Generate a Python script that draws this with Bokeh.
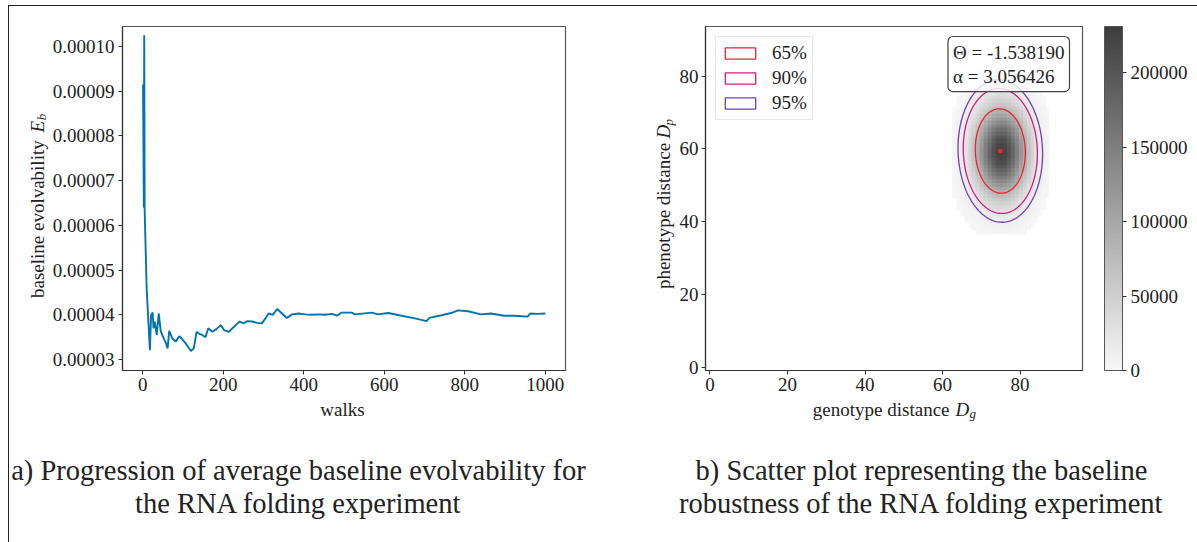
import numpy as np
from bokeh.plotting import figure
from bokeh.layouts import row, column
from bokeh.models import (Range1d, FixedTicker, PrintfTickFormatter, Label,
                          LinearColorMapper, ColorBar)
from bokeh.core.properties import value
from bokeh.embed import file_html
from bokeh.resources import INLINE

# ---------------- data ----------------
# running average of the baseline evolvability E_b (in units of 1e-5) over the walks
walks = [1, 2, 3, 4, 5, 10, 18, 21, 25, 27, 30, 35, 40, 45, 54, 58, 62, 66, 74, 82,
         91, 96, 107, 120, 127, 134, 140, 148, 156, 163, 173, 183, 194, 202, 214, 223,
         231, 241, 251, 260, 272, 284, 296, 305, 313, 323, 334, 346, 358, 371, 387, 404,
         420, 437, 453, 470, 483, 494, 519, 527, 569, 584, 610, 643, 676, 705, 712, 742,
         766, 783, 808, 840, 865, 898, 923, 956, 962, 980, 1000]
evolvability_e5 = [9.15, 7.85, 6.40, 10.25, 6.35, 4.59, 3.21, 3.99, 4.05, 3.70, 3.85, 3.55,
                   4.03, 3.63, 3.44, 3.37, 3.25, 3.64, 3.47, 3.40, 3.52, 3.48, 3.36, 3.19,
                   3.25, 3.62, 3.58, 3.55, 3.50, 3.70, 3.62, 3.68, 3.77, 3.66, 3.62, 3.70,
                   3.77, 3.85, 3.81, 3.86, 3.85, 3.82, 3.81, 3.92, 4.03, 4.00, 4.13, 4.03,
                   3.93, 4.01, 4.03, 4.01, 4.00, 4.01, 4.00, 4.02, 3.98, 4.05, 4.05, 4.01,
                   4.05, 4.01, 4.04, 3.98, 3.92, 3.86, 3.93, 3.99, 4.04, 4.10, 4.08, 4.01,
                   4.03, 3.98, 3.98, 3.96, 4.03, 4.02, 4.03]
evo_yticks_e5 = [3, 4, 5, 6, 7, 8, 9, 10]
walk_ticks = [0, 200, 400, 600, 800, 1000]

# 2D histogram of (genotype distance, phenotype distance): column / row profiles
dg_bins = list(range(63, 88))
dg_profile = [0.024, 0.044, 0.076, 0.123, 0.192, 0.282, 0.395, 0.524, 0.662, 0.792, 0.902,
              0.975, 1.0, 0.975, 0.902, 0.792, 0.662, 0.524, 0.395, 0.282, 0.192, 0.123,
              0.076, 0.044, 0.024]
dp_bins = list(range(37, 82))
dp_profile = [0.023, 0.032, 0.044, 0.059, 0.079, 0.105, 0.135, 0.172, 0.216, 0.267, 0.325,
              0.389, 0.458, 0.531, 0.607, 0.682, 0.755, 0.823, 0.882, 0.932, 0.969, 0.992,
              1.0, 0.992, 0.969, 0.932, 0.882, 0.823, 0.755, 0.682, 0.607, 0.531, 0.458,
              0.389, 0.325, 0.267, 0.216, 0.172, 0.135, 0.105, 0.079, 0.059, 0.044, 0.032,
              0.023]
peak_count = 228000
count_max = 231000
count_ticks = [0, 50000, 100000, 150000, 200000]
dist_ticks = [0, 20, 40, 60, 80]

# confidence ellipses of the fitted distribution
center_dg, center_dp = 74.9, 59.4
theta = -1.538190
alpha = 3.056426
sigma_major, sigma_minor = 8.0, 4.45
conf_levels = [0.65, 0.90, 0.95]
conf_labels = ["65%", "90%", "95%"]
conf_colors = ["#ec2233", "#cf1d80", "#6f42b0"]

caption_a = ["a) Progression of average baseline evolvability for",
             "the RNA folding experiment"]
caption_b = ["b) Scatter plot representing the baseline",
             "robustness of the RNA folding experiment"]

# ---------------- styling ----------------
SERIF = "Liberation Serif"
FS = "19px"
SUB = "13px"
INK = "#222222"
TOP_H = 393          # height of the plot row
CAP_H = 143          # height of the caption row


def style_axes(p, standoff=5):
    p.grid.visible = False
    p.outline_line_color = "#555555"
    p.outline_line_width = 1.2
    p.background_fill_color = "white"
    p.border_fill_color = "white"
    for ax in p.axis:
        ax.axis_line_color = "#333333"
        ax.axis_line_width = 1.2
        ax.major_tick_in = 0
        ax.major_tick_out = 4
        ax.major_tick_line_color = "#333333"
        ax.minor_tick_line_color = None
        ax.major_label_text_font = SERIF
        ax.major_label_text_font_size = FS
        ax.major_label_text_color = INK
        ax.major_label_standoff = standoff
    p.xaxis.major_label_standoff = 3


def blank(width, height):
    f = figure(width=width, height=height, output_backend="svg", toolbar_location=None,
               x_range=Range1d(0, width), y_range=Range1d(0, height),
               x_axis_location=None, y_axis_location=None, min_border=0)
    f.grid.visible = False
    f.outline_line_color = None
    return f


def put(f, text, x, y, size=FS, italic=False, angle=0.0, align="center"):
    f.text(x=[x], y=[y], text=[text], angle=angle, text_font=value(SERIF),
           text_font_size=size, text_font_style="italic" if italic else "normal",
           text_color=INK, text_align=align, text_baseline="middle")


# ---------------- a) evolvability progression ----------------
pl = figure(width=551, height=TOP_H, output_backend="svg", toolbar_location=None,
            x_range=Range1d(-50, 1050), y_range=Range1d(2.755e-5, 1.0446e-4),
            min_border_left=71, min_border_right=35, min_border_top=20,
            min_border_bottom=TOP_H - 20 - 344)
evo = [v * 1e-5 for v in evolvability_e5]
pl.line(walks, evo, line_color="#0173B2", line_width=1.9)
style_axes(pl, standoff=4)
pl.xaxis.ticker = FixedTicker(ticks=walk_ticks)
pl.yaxis.ticker = FixedTicker(ticks=[t * 1e-5 for t in evo_yticks_e5])
pl.yaxis.formatter = PrintfTickFormatter(format="%.5f")

# y-axis title of a): baseline evolvability E_b
ylab_a = blank(40, TOP_H)
put(ylab_a, "baseline evolvability", 28, TOP_H + 6 - 136, angle=np.pi / 2, align="right")
put(ylab_a, "E", 28, TOP_H + 6 - 127, italic=True, angle=np.pi / 2, align="left")
put(ylab_a, "b", 32, TOP_H + 6 - 113, size=SUB, italic=True, angle=np.pi / 2, align="left")

# ---------------- b) distance heatmap ----------------
pr = figure(width=521, height=TOP_H, output_backend="svg", toolbar_location=None,
            x_range=Range1d(-1.15, 96.1), y_range=Range1d(-0.9, 93.6),
            min_border_left=27, min_border_right=115, min_border_top=20,
            min_border_bottom=TOP_H - 20 - 344)

counts = peak_count * np.outer(np.array(dp_profile), np.array(dg_profile))
counts[counts < 1500] = np.nan
palette = ["#%02x%02x%02x" % (g, g, g) for g in np.linspace(248, 62, 256).astype(int)]
mapper = LinearColorMapper(palette=palette, low=0, high=count_max, nan_color=(0, 0, 0, 0))
pr.image(image=[counts], x=dg_bins[0] - 0.5, y=dp_bins[0] - 0.5,
         dw=len(dg_bins), dh=len(dp_bins), color_mapper=mapper)

t = np.linspace(0, 2 * np.pi, 240)
for lvl, lab, col in zip(conf_levels, conf_labels, conf_colors):
    k = np.sqrt(-2.0 * np.log(1.0 - lvl))
    a, b = k * sigma_major, k * sigma_minor
    ex = center_dg + a * np.cos(t) * np.cos(theta) - b * np.sin(t) * np.sin(theta)
    ey = center_dp + a * np.cos(t) * np.sin(theta) + b * np.sin(t) * np.cos(theta)
    pr.patch(ex, ey, fill_alpha=0, line_color=col, line_width=1.3, legend_label=lab)
pr.scatter([center_dg], [center_dp], size=4, color="#ec2233")

style_axes(pr, standoff=3)
pr.xaxis.ticker = FixedTicker(ticks=dist_ticks)
pr.yaxis.ticker = FixedTicker(ticks=dist_ticks)

leg = pr.legend[0]
leg.location = "top_left"
leg.margin = 10
leg.padding = 5
leg.spacing = 3
leg.label_height = 20
leg.glyph_width = 38
leg.glyph_height = 14
leg.label_standoff = 13
leg.label_text_font = SERIF
leg.label_text_font_size = FS
leg.label_text_color = INK
leg.border_line_color = "#d0d0d0"
leg.background_fill_alpha = 0.8

pr.add_layout(Label(x=364, y=334, x_units="screen", y_units="screen",
                    text="\u0398 = %.6f\n\u03b1 = %.6f" % (theta, alpha),
                    anchor="top_right", text_align="left", text_font=SERIF,
                    text_font_size=FS, text_color=INK, text_line_height=1.15,
                    background_fill_color="white", background_fill_alpha=0.8,
                    border_line_color="#444444", border_line_width=1.2,
                    padding=5, border_radius=5))

cbar = ColorBar(color_mapper=mapper, ticker=FixedTicker(ticks=count_ticks),
                formatter=PrintfTickFormatter(format="%d"), width=18, height=344,
                margin=0, padding=0, location=(22, 0),
                major_tick_in=0, major_tick_out=4,
                major_tick_line_color="#333333", bar_line_color="#555555",
                major_label_text_font=SERIF, major_label_text_font_size=FS,
                major_label_text_color=INK, label_standoff=4)
pr.add_layout(cbar, "right")

# y-axis title of b): phenotype distance D_p
ylab_b = blank(76, TOP_H)
put(ylab_b, "phenotype distance", 63, TOP_H + 6 - 139, angle=np.pi / 2, align="right")
put(ylab_b, "D", 63, TOP_H + 6 - 134, italic=True, angle=np.pi / 2, align="left")
put(ylab_b, "p", 68, TOP_H + 6 - 119, size=SUB, italic=True, angle=np.pi / 2, align="left")

# ---------------- x titles and captions ----------------
cap_a = blank(591, CAP_H)
put(cap_a, "walks", 333, 542 - 409)
for line, y in zip(caption_a, [542 - 470, 542 - 503]):
    put(cap_a, line, 289, y, size="28.5px")

cap_b = blank(597, CAP_H)
put(cap_b, "genotype distance", 349, 542 - 409, align="right")
put(cap_b, "D", 355, 542 - 409, italic=True, align="left")
put(cap_b, "g", 369, 542 - 413, size=SUB, italic=True, align="left")
for line, y in zip(caption_b, [542 - 470, 542 - 503]):
    put(cap_b, line, 321, y, size="28.5px")

page = column(row(ylab_a, pl, ylab_b, pr), row(cap_a, cap_b),
              styles={"border-top": "1px solid #222", "border-left": "1px solid #222",
                      "margin-left": "8px", "margin-top": "5px"})

open("out.html", "w").write(file_html(page, INLINE))
